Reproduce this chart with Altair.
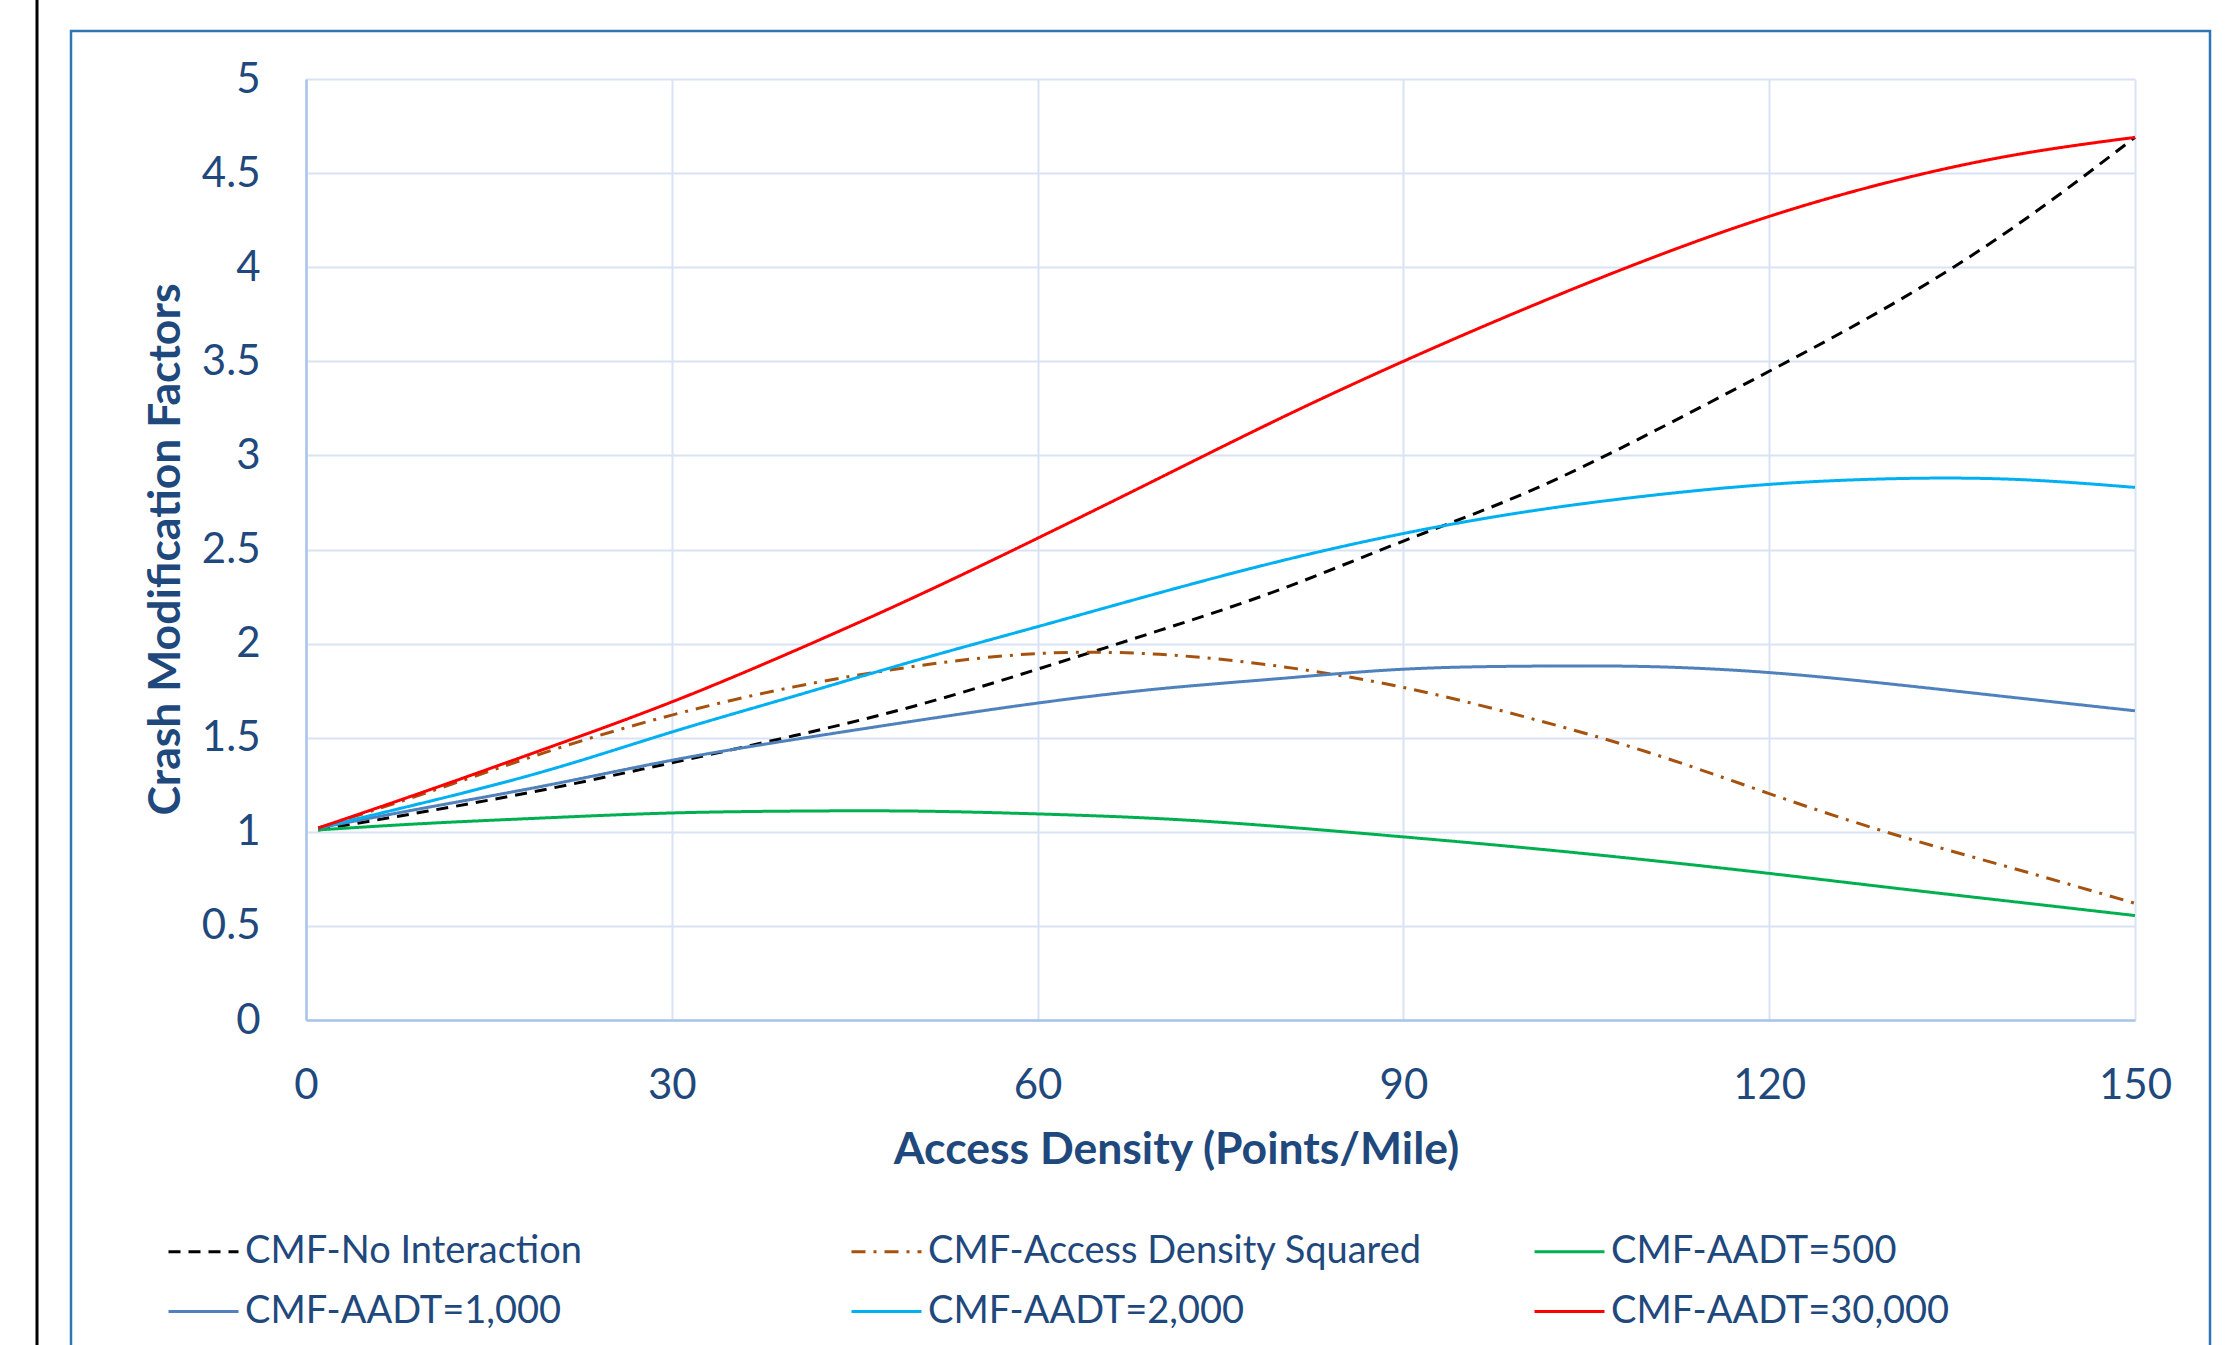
import altair as alt
import pandas as pd

# ---- data ----
access_density = [1, 10, 20, 30, 40, 50, 60, 70, 80, 90, 100, 110, 120, 130, 140, 150]

series_names = [
    "CMF-No Interaction",
    "CMF-Access Density Squared",
    "CMF-AADT=500",
    "CMF-AADT=1,000",
    "CMF-AADT=2,000",
    "CMF-AADT=30,000",
]

cmf_no_interaction = [1.01, 1.11, 1.23, 1.367, 1.51, 1.67, 1.864, 2.07, 2.29, 2.545, 2.80, 3.11, 3.447, 3.80, 4.21, 4.69]
cmf_ad_squared = [1.02, 1.21, 1.43, 1.62, 1.77, 1.88, 1.947, 1.943, 1.878, 1.767, 1.61, 1.424, 1.203, 0.991, 0.806, 0.62]
cmf_aadt_500 = [1.01, 1.045, 1.075, 1.10, 1.11, 1.11, 1.095, 1.07, 1.027, 0.973, 0.915, 0.85, 0.779, 0.703, 0.629, 0.555]
cmf_aadt_1000 = [1.02, 1.13, 1.25, 1.38, 1.49, 1.59, 1.684, 1.76, 1.815, 1.864, 1.88, 1.878, 1.846, 1.785, 1.714, 1.643]
cmf_aadt_2000 = [1.02, 1.16, 1.33, 1.53, 1.72, 1.91, 2.09, 2.27, 2.44, 2.585, 2.70, 2.785, 2.846, 2.876, 2.873, 2.83]
cmf_aadt_30000 = [1.02, 1.22, 1.45, 1.69, 1.96, 2.25, 2.56, 2.88, 3.20, 3.50, 3.78, 4.04, 4.27, 4.455, 4.595, 4.69]

series_values = [cmf_no_interaction, cmf_ad_squared, cmf_aadt_500,
                 cmf_aadt_1000, cmf_aadt_2000, cmf_aadt_30000]

x_ticks = [0, 30, 60, 90, 120, 150]
y_ticks = [0, 0.5, 1, 1.5, 2, 2.5, 3, 3.5, 4, 4.5, 5]

# ---- styles ----
style_color = {
    "CMF-No Interaction": "#000000",
    "CMF-Access Density Squared": "#A5520F",
    "CMF-AADT=500": "#00B050",
    "CMF-AADT=1,000": "#4F81BD",
    "CMF-AADT=2,000": "#00B0F0",
    "CMF-AADT=30,000": "#FF0000",
}
style_dash = {
    "CMF-No Interaction": [12, 8],
    "CMF-Access Density Squared": [14, 8, 3, 8],
    "CMF-AADT=500": [1, 0],
    "CMF-AADT=1,000": [1, 0],
    "CMF-AADT=2,000": [1, 0],
    "CMF-AADT=30,000": [1, 0],
}
# legend fills column by column: order so rows read like the reference
legend_order = [
    "CMF-No Interaction", "CMF-AADT=1,000",
    "CMF-Access Density Squared", "CMF-AADT=2,000",
    "CMF-AADT=500", "CMF-AADT=30,000",
]
TEXT = "#1F497D"
FONT = "Lato"

rows = []
for name, vals in zip(series_names, series_values):
    for xv, yv in zip(access_density, vals):
        rows.append({"x": xv, "y": yv, "series": name})
df = pd.DataFrame(rows)

PLOT_W, PLOT_H = 1829, 941
PAD_L, PAD_T = 306, 79

legend = alt.Legend(
    title=None,
    orient="none",
    legendX=-139,
    legendY=1136,
    columns=3,
    gridAlign="all",
    symbolType="stroke",
    symbolSize=4900,
    symbolStrokeWidth=3,
    labelFont=FONT,
    labelFontSize=38,
    labelColor=TEXT,
    labelLimit=1000,
    labelOffset=5,
    columnPadding=106,
    rowPadding=4,
)

lines = alt.Chart(df).mark_line(interpolate="natural", strokeWidth=3).encode(
    x=alt.X(
        "x:Q",
        scale=alt.Scale(domain=[0, 150], nice=False, zero=False),
        axis=alt.Axis(
            values=x_ticks,
            labelFlush=False,
            title="Access Density (Points/Mile)",
            titleX=870,
            titleY=143,
            titleAlign="center",
            titleBaseline="alphabetic",
            labelPadding=45,
        ),
    ),
    y=alt.Y(
        "y:Q",
        scale=alt.Scale(domain=[0, 5], nice=False),
        axis=alt.Axis(
            values=y_ticks,
            labelFlush=False,
            format=".1~f",
            title="Crash Modification Factors",
            titleX=-140,
            titleY=470,
            titleAlign="center",
            titleBaseline="middle",
            labelPadding=46,
        ),
    ),
    color=alt.Color("series:N",
                    scale=alt.Scale(domain=legend_order, range=[style_color[n] for n in legend_order]),
                    legend=legend),
    strokeDash=alt.StrokeDash("series:N",
                              scale=alt.Scale(domain=legend_order, range=[style_dash[n] for n in legend_order]),
                              legend=legend),
)

dummy = pd.DataFrame({"a": [0]})
frame = alt.Chart(dummy).mark_rect(filled=False, stroke="#2E75B6", strokeWidth=2.5).encode(
    x=alt.value(71 - PAD_L), x2=alt.value(2210 - PAD_L),
    y=alt.value(31 - PAD_T), y2=alt.value(1400 - PAD_T),
)
page_line = alt.Chart(dummy).mark_rule(color="#000000", strokeWidth=3).encode(
    x=alt.value(37 - PAD_L), y=alt.value(-PAD_T - 5), y2=alt.value(1345 - PAD_T + 10),
)

chart = alt.layer(page_line, frame, lines).properties(
    width=PLOT_W,
    height=PLOT_H,
    autosize=alt.AutoSizeParams(type="none"),
    padding={"left": PAD_L, "top": PAD_T, "right": 2230 - PAD_L - PLOT_W, "bottom": 1345 - PAD_T - PLOT_H},
    background="white",
).configure_view(stroke=None).configure_axis(
    labelFont=FONT,
    labelFontSize=42,
    labelColor=TEXT,
    titleFont=FONT,
    titleFontSize=44.5,
    titleFontWeight="bold",
    titleColor=TEXT,
    ticks=False,
    grid=True,
    gridColor="#D9E3F3",
    gridWidth=2,
    domainColor="#A9C4EB",
    domainWidth=2.5,
)

chart.save("out.html", embed_options={"renderer": "svg", "actions": False})
